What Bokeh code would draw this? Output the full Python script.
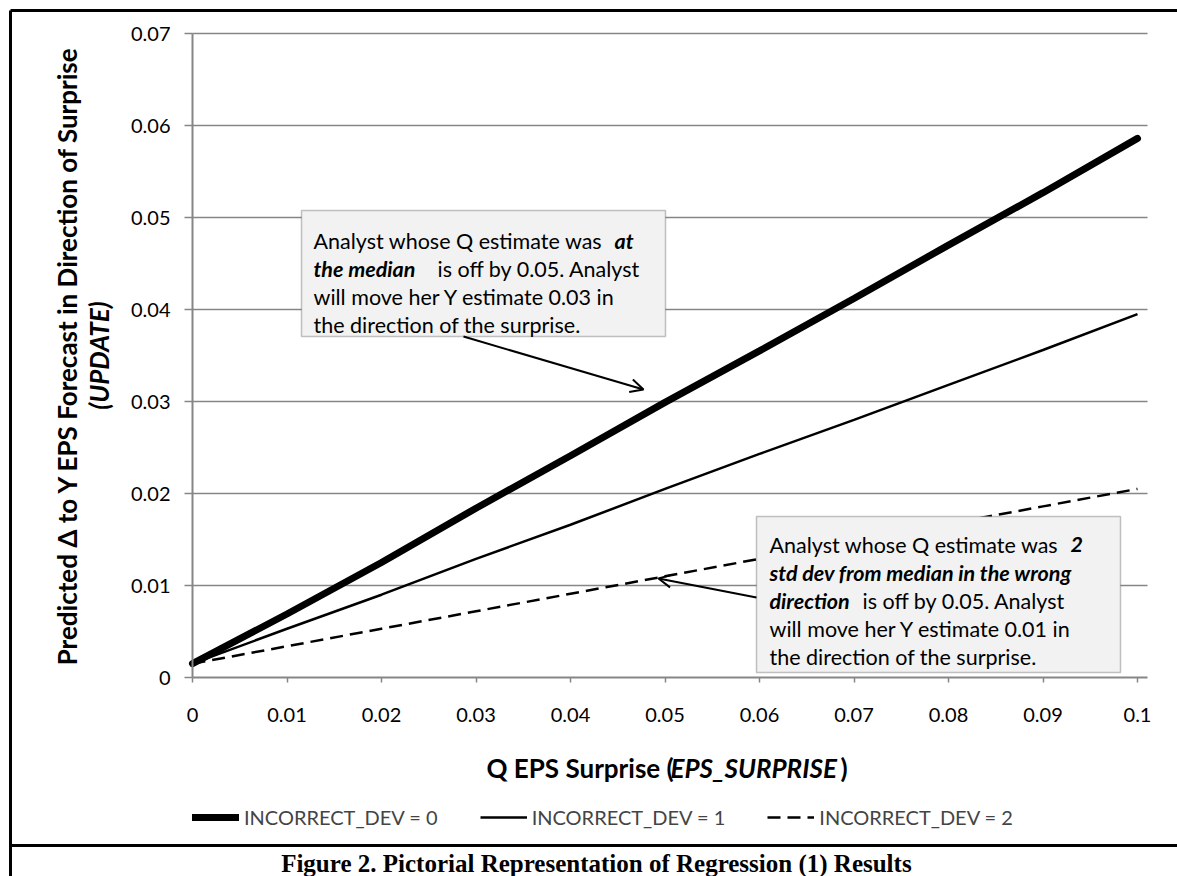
from bokeh.plotting import figure
from bokeh.models import (Range1d, FixedTicker, CustomJSTickFormatter, Label, Arrow, OpenHead,
                          BoxAnnotation, Legend, LegendItem)
from bokeh.embed import file_html
from bokeh.resources import INLINE
import math

# ---- data ----
eps_surprise = [0.0, 0.01, 0.02, 0.03, 0.04, 0.05, 0.06, 0.07, 0.08, 0.09, 0.10]
update_dev0 = [0.0015, 0.0069, 0.0125, 0.0184, 0.0241, 0.0299, 0.0355, 0.0412, 0.0470, 0.0527, 0.0586]
update_dev1 = [0.0015, 0.0053, 0.0090, 0.0129, 0.0166, 0.0205, 0.0243, 0.0280, 0.0318, 0.0356, 0.0395]
update_dev2 = [0.0015, 0.0034, 0.0053, 0.0072, 0.0091, 0.0110, 0.0129, 0.0148, 0.0167, 0.0186, 0.0205]
series_names = ["INCORRECT_DEV = 0", "INCORRECT_DEV = 1", "INCORRECT_DEV = 2"]
x_ticks = [0.0, 0.01, 0.02, 0.03, 0.04, 0.05, 0.06, 0.07, 0.08, 0.09, 0.10]
x_tick_labels = ["0", "0.01", "0.02", "0.03", "0.04", "0.05", "0.06", "0.07", "0.08", "0.09", "0.1"]
y_ticks = [0.0, 0.01, 0.02, 0.03, 0.04, 0.05, 0.06, 0.07]
y_tick_labels = ["0", "0.01", "0.02", "0.03", "0.04", "0.05", "0.06", "0.07"]

# ---- layout (page pixels -> data) ----
W, H = 1177, 876
FL, FR, FT, FB = 192, 1147, 33, 677       # plot area edges on the page
XPX = (1137 - 192) / 0.1
YPX = (677 - 33) / 0.07

def dx(px):
    return (px - FL) / XPX

def dy(py):
    return (FB - py) / YPX

FONT = "Lato"
GRAY = "#868686"

p = figure(width=W, height=H, output_backend="svg", toolbar_location=None,
           x_range=Range1d(dx(0), dx(W)), y_range=Range1d(dy(H), dy(0)),
           min_border=0)
p.outline_line_color = None
p.background_fill_color = "white"
p.border_fill_color = "white"
p.xgrid.visible = False
p.ygrid.visible = False

# horizontal gridlines across the plot area
p.segment(x0=0, x1=dx(FR), y0=y_ticks[1:], y1=y_ticks[1:], line_color=GRAY, line_width=1.3)

for ax, ticks, labels, tout, stand, bnds in [
        (p.xaxis[0], x_ticks, x_tick_labels, 5, 25, (0, dx(FR))),
        (p.yaxis[0], y_ticks, y_tick_labels, 8, 14, (0, 0.07))]:
    ax.fixed_location = 0
    ax.bounds = bnds
    ax.ticker = FixedTicker(ticks=ticks)
    ax.formatter = CustomJSTickFormatter(args=dict(labels=labels), code="return labels[index];")
    ax.axis_line_color = GRAY
    ax.axis_line_width = 2
    ax.major_tick_line_color = GRAY
    ax.major_tick_line_width = 1.5
    ax.major_tick_out = tout
    ax.major_tick_in = 0
    ax.minor_tick_line_color = None
    ax.major_label_text_font = FONT
    ax.major_label_text_font_size = "20px"
    ax.major_label_text_color = "black"
    ax.major_label_standoff = stand

r0 = p.line(eps_surprise, update_dev0, line_color="black", line_width=7, line_cap="round")
r1 = p.line(eps_surprise, update_dev1, line_color="black", line_width=2.5)
r2 = p.line(eps_surprise, update_dev2, line_color="black", line_width=2.5, line_dash="13 7")

legend = Legend(items=[LegendItem(label=series_names[0], renderers=[r0]),
                       LegendItem(label=series_names[1], renderers=[r1]),
                       LegendItem(label=series_names[2], renderers=[r2])],
                orientation="horizontal", location=(FL, H - 829),
                glyph_width=47, glyph_height=20, label_standoff=5, spacing=42,
                padding=0, margin=0, border_line_color=None, background_fill_alpha=0,
                label_text_font=FONT, label_text_font_size="20px", label_height=20)
p.add_layout(legend)

def lab(px, py, text, size="21.5px", style="normal", align="left", angle=0.0, font=FONT):
    p.add_layout(Label(x=dx(px), y=dy(py), text=text, text_font=font, text_font_size=size,
                       text_font_style=style, text_align=align, text_baseline="alphabetic",
                       angle=angle, text_color="black"))

# annotation boxes
for (l, t, r, b) in [(301, 210, 665, 336), (756, 516, 1120, 672)]:
    p.add_layout(BoxAnnotation(left=dx(l), right=dx(r), top=dy(t), bottom=dy(b),
                               fill_color="#f2f2f2", fill_alpha=1.0,
                               line_color="#3c3c3c", line_width=1.5, level="annotation"))

# box 1 text
lab(313, 240, "Analyst whose  Q estimate was")
lab(614, 240, "at", style="bold italic")
lab(313, 268, "the median", style="bold italic")
lab(437, 268, "is off by 0.05.  Analyst")
lab(313, 296, "will move her Y estimate 0.03 in")
lab(313, 324, "the direction of the surprise.")
# box 2 text
lab(769, 544, "Analyst whose  Q estimate was")
lab(1070, 544, "2", style="bold italic")
lab(769, 572, "std dev from median  in the wrong", style="bold italic")
lab(769, 600, "direction", style="bold italic")
lab(862, 600, "is off by 0.05.  Analyst")
lab(769, 628, "will move her Y estimate 0.01 in")
lab(769, 656, "the direction of the surprise.")

# arrows
for (x0, y0, x1, y1) in [(463, 336, 643, 389), (756, 597, 658, 578)]:
    p.add_layout(Arrow(x_start=dx(x0), y_start=dy(y0), x_end=dx(x1), y_end=dy(y1),
                       line_color="black", line_width=2,
                       end=OpenHead(size=13, line_color="black", line_width=2)))

# axis titles
lab(486, 767, "Q EPS Surprise (", size="26px", style="bold")
lab(670, 767, "EPS_SURPRISE", size="26px", style="bold italic")
lab(840, 767, ")", size="26px", style="bold")
lab(66, 355, "Predicted \u0394 to Y EPS Forecast in Direction of Surprise", size="26px",
    style="bold", align="center", angle=math.pi / 2)
lab(98, 355, "(UPDATE)", size="26px", style="bold italic", align="center", angle=math.pi / 2)

# outer frame lines and caption
for (x0, y0, x1, y1) in [(10, 10, W, 10), (10, 10, 10, H), (10, 845, W, 845)]:
    p.add_layout(Arrow(x_start=dx(x0), y_start=dy(y0), x_end=dx(x1), y_end=dy(y1),
                       line_color="black", line_width=3, end=None))
lab(599, 863, "Figure 2.  Pictorial Representation of Regression (1) Results", size="25px",
    style="bold", align="center", font="Liberation Serif")

open("out.html", "w").write(file_html(p, INLINE))
